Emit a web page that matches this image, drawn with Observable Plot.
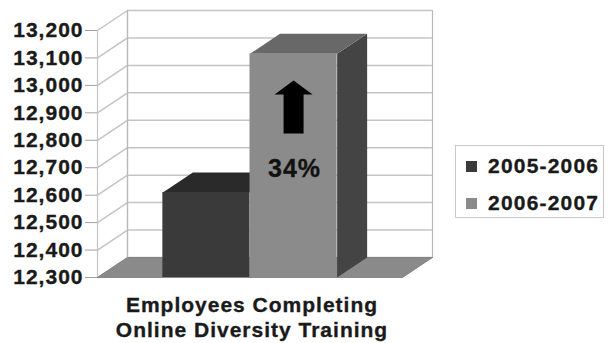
<!DOCTYPE html>
<html><head><meta charset="utf-8">
<script src="https://cdn.jsdelivr.net/npm/d3@7"></script>
<script src="https://cdn.jsdelivr.net/npm/@observablehq/plot@0.6"></script>
<style>
body{margin:0;background:#fff;}
#wrap{position:relative;width:610px;height:343px;overflow:hidden;}
#wrap svg text{stroke:#1a1a1a;stroke-width:0.35px;}
.legend{position:absolute;left:455px;top:145px;width:147px;height:71px;border:1px solid #c8c8c8;font:bold 21px "Liberation Sans",Arial,sans-serif;letter-spacing:1.2px;color:#1a1a1a;background:#fff;-webkit-text-stroke:0.35px #1a1a1a;}
.item{position:absolute;left:10px;display:flex;align-items:center;height:24px;}
.sw{width:11px;height:11px;margin-right:11px;}
</style></head><body><div id="wrap"></div>
<script>
// ---- data ----
const series = ["2005-2006", "2006-2007"];
const values = [12610, 13115];
const yTicks = [12300, 12400, 12500, 12600, 12700, 12800, 12900, 13000, 13100, 13200];
const categoryLines = ["Employees Completing", "Online Diversity Training"];
const annotation = "34%";

// ---- styling ----
const frontColors = ["#3a3a3a", "#8b8b8b"];
const topColors = ["#2a2a2a", "#686868"];
const sideColors = ["#262626", "#444444"];
const floorColor = "#8a8a8a";

const W = 610, H = 343, mL = 97, mR = 208, mT = 30, mB = 66;
const PAD = 0.75;
const X1 = 2 * PAD + series.length;
const yMin = yTicks[0], yMax = yTicks[yTicks.length - 1];
const pxX = (W - mL - mR) / X1;
const pxY = (H - mT - mB) / (yMax - yMin);
const DX = 30 / pxX, DY = 20 / pxY;

// faces
const poly = [];
function addPoly(id, pts) { pts.forEach(p => poly.push({id, x: p[0], y: p[1]})); poly.push({id, x: pts[0][0], y: pts[0][1]}); }
addPoly("wall", [[DX, yMin + DY], [X1 + DX, yMin + DY], [X1 + DX, yMax + DY], [DX, yMax + DY]]);
addPoly("floor", [[0, yMin], [X1, yMin], [X1 + DX, yMin + DY], [DX, yMin + DY]]);

const bars = series.map((s, i) => ({s, v: values[i], x1: PAD + i, x2: PAD + i + 1, i}));
const faces = [];
bars.forEach(b => {
  faces.push({kind: "side", i: b.i, pts: [[b.x2, yMin], [b.x2, b.v], [b.x2 + DX, b.v + DY], [b.x2 + DX, yMin + DY]]});
  faces.push({kind: "top", i: b.i, pts: [[b.x1, b.v], [b.x2, b.v], [b.x2 + DX, b.v + DY], [b.x1 + DX, b.v + DY]]});
});
function facePts(f) { const a = f.pts.map(p => ({x: p[0], y: p[1]})); a.push({x: f.pts[0][0], y: f.pts[0][1]}); return a; }

// arrow inside second bar (annotation)
const b2 = bars[1];
const cx = (b2.x1 + b2.x2) / 2;
const aBase = 12825, aHead = 12967, aTip = 13018;
const hh = 19 / pxX, hs = 10 / pxX;
const arrowPts = [[cx - hs, aBase], [cx + hs, aBase], [cx + hs, aHead], [cx + hh, aHead], [cx, aTip], [cx - hh, aHead], [cx - hs, aHead], [cx - hs, aBase]].map(p => ({x: p[0], y: p[1]}));

const marks = [
  Plot.line(poly.filter(d => d.id === "wall"), {x: "x", y: "y", fill: "#fff", stroke: "#b8b8b8", strokeWidth: 1.2, curve: "linear"}),
  Plot.ruleY(yTicks, {y: d => d + DY, x1: DX, x2: X1 + DX, stroke: "#c4c4c4", strokeWidth: 1.5}),
  Plot.link(yTicks, {x1: 0, y1: d => d, x2: DX, y2: d => d + DY, stroke: "#c4c4c4", strokeWidth: 1.5}),
  Plot.ruleX([0], {y1: yMin, y2: yMax, stroke: "#c4c4c4", strokeWidth: 1.2}),
  Plot.ruleX([DX], {y1: yMin + DY, y2: yMax + DY, stroke: "#b8b8b8", strokeWidth: 1.2}),
  Plot.line(poly.filter(d => d.id === "floor"), {x: "x", y: "y", fill: floorColor, stroke: "#7a7a7a", strokeWidth: 0.8, curve: "linear"}),
];
bars.forEach(b => {
  const side = faces.find(f => f.kind === "side" && f.i === b.i);
  const top = faces.find(f => f.kind === "top" && f.i === b.i);
  marks.push(Plot.line(facePts(side), {x: "x", y: "y", fill: sideColors[b.i], stroke: "none", curve: "linear"}));
  marks.push(Plot.line(facePts(top), {x: "x", y: "y", fill: topColors[b.i], stroke: "none", curve: "linear"}));
  marks.push(Plot.rectY([b], {x1: "x1", x2: "x2", y1: yMin, y2: "v", fill: frontColors[b.i], inset: 0}));
});
marks.push(
  Plot.line(arrowPts, {x: "x", y: "y", fill: "#000", stroke: "none", curve: "linear"}),
  Plot.text([annotation], {x: cx, y: 12697, text: d => d, fontSize: 25, fontWeight: "bold", fill: "#111", lineAnchor: "middle", textAnchor: "middle", dx: 1}),
  Plot.axisY(yTicks, {anchor: "left", tickSize: 12, tickPadding: 2, tickFormat: d3.format(","), stroke: "#a0a0a0", fill: "#1a1a1a", fontSize: 21, fontWeight: "bold", label: null}),
  Plot.text([categoryLines.join("\n")], {x: X1 / 2, y: yMin, text: d => d, dy: 17, dx: 2, lineAnchor: "top", lineHeight: 1.19, fontSize: 21, fontWeight: "bold", fill: "#1a1a1a", textAnchor: "middle", letterSpacing: "1.4px"})
);

const chart = Plot.plot({
  width: W, height: H,
  marginLeft: mL, marginRight: mR, marginTop: mT, marginBottom: mB,
  x: {domain: [0, X1], axis: null},
  y: {domain: [yMin, yMax], axis: null},
  style: {fontFamily: '"Liberation Sans", Arial, sans-serif', letterSpacing: "1px", background: "#fff", overflow: "visible"},
  marks
});
const wrap = document.getElementById("wrap");
wrap.appendChild(chart);

const legend = document.createElement("div");
legend.className = "legend";
series.forEach((s, i) => {
  const it = document.createElement("div");
  it.className = "item";
  it.style.top = (8 + i * 37) + "px";
  const sw = document.createElement("span");
  sw.className = "sw";
  sw.style.background = frontColors[i];
  const t = document.createElement("span");
  t.textContent = s;
  it.appendChild(sw); it.appendChild(t);
  legend.appendChild(it);
});
wrap.appendChild(legend);
</script></body></html>
